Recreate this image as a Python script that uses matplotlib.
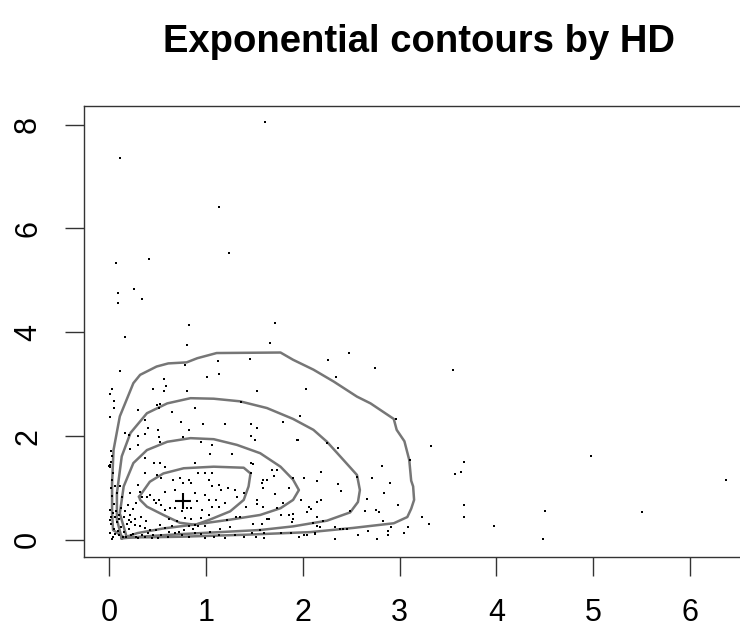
import matplotlib
matplotlib.use("Agg")
import matplotlib.pyplot as plt
import numpy as np

plt.rcParams["font.family"] = ["Liberation Sans", "DejaVu Sans"]

# sample points (x, y)
sparse_pts = [
    (1.61, 8.05), (0.11, 7.36), (1.13, 6.42), (1.24, 5.53), (0.41, 5.41), (0.07, 5.34),
    (0.26, 4.84), (0.09, 4.76), (0.34, 4.64), (0.09, 4.57), (0.82, 4.14), (1.71, 4.17),
    (0.16, 3.90), (0.80, 3.76), (1.66, 3.79), (2.48, 3.60), (2.26, 3.47), (2.75, 3.32),
    (1.12, 3.44), (1.45, 3.48), (0.78, 3.36), (0.11, 3.25), (1.13, 3.20), (1.01, 3.13),
    (0.57, 3.10), (2.34, 3.13), (3.55, 3.28), (3.32, 1.81), (3.11, 1.54), (3.67, 1.50),
    (3.57, 1.27), (3.63, 1.30), (4.98, 1.61), (6.37, 1.15), (3.67, 0.68), (3.67, 0.45),
    (3.23, 0.45), (3.30, 0.30), (3.09, 0.25), (3.05, 0.14), (4.50, 0.56), (5.50, 0.53),
    (3.98, 0.26), (4.48, 0.02), (2.77, 0.02), (2.33, 0.02), (2.82, 1.43), (2.90, 1.10),
    (2.84, 0.91), (2.98, 0.68), (2.36, 1.77), (2.25, 1.87), (1.95, 1.92), (1.51, 1.92),
    (2.03, 2.90), (1.97, 2.39), (2.96, 2.32), (1.80, 2.27), (1.53, 2.86), (1.53, 2.15),
]

upper_pts = [
    (0.03, 2.91), (0.01, 2.81), (0.45, 2.90), (0.59, 2.97), (0.57, 2.86), (0.80, 2.86),
    (0.05, 2.67), (0.05, 2.55), (0.49, 2.60), (0.53, 2.62), (0.51, 2.54), (0.30, 2.50),
    (0.89, 2.54), (0.65, 2.47), (1.36, 2.65), (0.01, 2.36), (0.37, 2.31), (0.74, 2.27),
    (0.97, 2.23), (1.20, 2.23), (1.47, 2.24), (0.40, 2.16), (0.50, 2.12), (0.82, 2.11),
    (0.16, 2.06), (0.76, 1.99), (0.20, 2.02), (0.30, 2.00), (0.37, 2.04), (0.51, 1.99),
    (1.47, 2.00), (0.02, 1.72), (0.03, 1.61), (0.22, 1.75), (0.30, 1.83), (0.53, 1.88),
    (0.95, 1.88), (1.06, 1.83), (1.04, 1.66), (1.27, 1.66), (0.37, 1.57), (0.46, 1.48),
    (0.53, 1.49), (0.58, 1.41), (0.89, 1.48), (1.47, 1.49), (0.01, 1.41), (0.02, 1.51),
    (1.80, 2.28), (1.94, 1.93), (1.49, 1.46),
]

core_pts = [
    (0.92, 1.28), (0.99, 1.28), (1.06, 1.28), (0.04, 1.28), (0.03, 1.16), (0.06, 1.03),
    (0.08, 0.90), (0.11, 1.03), (0.13, 0.83), (0.37, 1.28), (0.49, 1.25), (0.54, 1.19),
    (0.58, 0.93), (0.66, 1.16), (0.68, 0.96), (0.73, 1.19), (0.76, 1.09), (0.82, 1.16),
    (0.85, 1.09), (0.89, 0.90), (0.91, 0.74), (0.99, 0.87), (1.03, 1.16), (1.06, 1.03),
    (1.13, 1.06), (1.16, 0.96), (1.23, 1.00), (1.30, 0.96), (1.32, 0.83), (1.03, 0.77),
    (1.10, 0.77), (1.06, 0.64), (1.13, 0.63), (1.20, 0.71), (0.30, 1.06), (0.32, 0.93),
    (0.34, 0.83), (0.39, 0.83), (0.42, 0.87), (0.46, 0.77), (0.48, 0.71), (0.51, 0.77),
    (0.54, 0.67), (0.58, 0.58), (0.63, 0.61), (0.68, 0.61), (0.75, 0.55), (0.80, 0.61),
    (0.85, 0.61), (0.96, 0.57), (1.03, 0.48), (1.47, 1.28), (1.63, 1.16), (1.58, 1.10),
    (1.39, 0.90), (1.53, 0.77), (1.53, 0.69), (1.41, 0.63), (1.31, 0.45), (1.35, 0.45),
    (1.22, 0.39), (1.49, 0.31),
]

right_pts = [
    (1.59, 1.16), (1.68, 1.34), (1.73, 1.34), (1.70, 1.23), (1.59, 1.00), (1.71, 0.89),
    (1.59, 0.64), (1.73, 0.61), (1.80, 0.71), (1.86, 1.00), (1.90, 1.19), (2.01, 1.19),
    (2.15, 1.14), (2.19, 1.30), (1.98, 0.76), (2.06, 0.64), (2.08, 0.60), (2.15, 0.73),
    (2.19, 0.76), (2.36, 1.07), (2.40, 0.95), (2.04, 0.53), (2.15, 0.45), (2.21, 0.37),
    (2.11, 0.32), (1.78, 0.48), (1.86, 0.48), (1.90, 0.49), (1.90, 0.41), (1.89, 0.34),
    (1.63, 0.40), (1.65, 0.40), (2.56, 1.22), (2.49, 0.55), (2.64, 0.55), (2.66, 0.79),
    (2.72, 1.19), (2.76, 0.57), (2.79, 0.53), (2.83, 0.37), (2.91, 0.24), (2.88, 0.17),
    (2.88, 0.10), (2.33, 0.24), (2.38, 0.21), (2.42, 0.21), (2.46, 0.21), (2.18, 0.24),
    (2.15, 0.27), (2.57, 0.10), (2.67, 0.18), (1.96, 0.06), (2.01, 0.10), (2.04, 0.10),
    (2.13, 0.11), (2.13, 0.14), (1.88, 0.14), (1.77, 0.13), (1.60, 0.03), (1.60, 0.13),
    (1.56, 0.19), (1.58, 0.31),
]

corner_pts = [
    (0.01, 0.58), (0.04, 0.51), (0.06, 0.45), (0.10, 0.48), (0.15, 0.45), (0.20, 0.39),
    (0.23, 0.35), (0.27, 0.29), (0.32, 0.26), (0.37, 0.22), (0.42, 0.19), (0.48, 0.19),
    (0.53, 0.29), (0.58, 0.22), (0.65, 0.26), (0.72, 0.16), (0.77, 0.19), (0.82, 0.26),
    (0.89, 0.29), (0.92, 0.26), (0.99, 0.26), (1.04, 0.16), (0.01, 0.13), (0.04, 0.06),
    (0.10, 0.10), (0.17, 0.06), (0.23, 0.10), (0.30, 0.03), (0.37, 0.06), (0.44, 0.03),
    (0.54, 0.10), (0.61, 0.06), (0.68, 0.13), (0.75, 0.10), (0.82, 0.06), (0.89, 0.13),
    (0.99, 0.03), (1.13, 0.10), (1.20, 0.03), (1.30, 0.10), (1.39, 0.06), (0.02, 0.30),
    (0.05, 0.20), (0.08, 0.35), (0.12, 0.25), (0.15, 0.15), (0.18, 0.30), (0.03, 0.02),
    (0.06, 0.12), (0.10, 0.40), (0.14, 0.05), (0.20, 0.20), (0.25, 0.12), (0.28, 0.05),
    (0.02, 0.45), (0.07, 0.55), (0.12, 0.62), (0.05, 0.70), (0.16, 0.55), (0.22, 0.48),
    (0.09, 0.18), (0.34, 0.10), (0.40, 0.14), (0.45, 0.09), (0.50, 0.04), (0.01, 0.38),
    (0.03, 0.85), (0.02, 1.00), (0.00, 1.42), (0.01, 1.45), (0.19, 0.68), (0.25, 0.60),
    (0.28, 0.72), (0.22, 0.90), (0.27, 0.40), (0.33, 0.45), (0.38, 0.36), (0.62, 0.40),
    (0.70, 0.36), (0.78, 0.42), (0.85, 0.40), (0.95, 0.42), (1.15, 0.20), (1.25, 0.24),
    (0.62, 0.15), (0.87, 0.20), (0.95, 0.12), (1.08, 0.05), (1.48, 0.14), (1.52, 0.05),
]

# depth contours
contour_1 = [
    (0.31, 0.83), (0.42, 1.12), (0.56, 1.28), (0.77, 1.38), (1.08, 1.41), (1.39, 1.39),
    (1.46, 1.28), (1.44, 1.03), (1.39, 0.77), (1.25, 0.55), (1.04, 0.39), (0.89, 0.29),
    (0.73, 0.33), (0.56, 0.48), (0.39, 0.64), (0.32, 0.77),
]
contour_2 = [
    (0.18, 0.06), (0.11, 0.51), (0.15, 1.03), (0.25, 1.48), (0.39, 1.73), (0.60, 1.89),
    (0.84, 1.96), (1.08, 1.94), (1.32, 1.83), (1.56, 1.67), (1.77, 1.41), (1.90, 1.16),
    (1.96, 0.96), (1.90, 0.77), (1.77, 0.61), (1.56, 0.48), (1.25, 0.39), (0.94, 0.31),
    (0.56, 0.22), (0.29, 0.13),
]
contour_3 = [
    (0.13, 0.03), (0.08, 0.39), (0.08, 0.90), (0.13, 1.61), (0.22, 2.06), (0.39, 2.44),
    (0.60, 2.63), (0.84, 2.73), (1.08, 2.72), (1.35, 2.67), (1.63, 2.54), (1.90, 2.33),
    (2.11, 2.12), (2.25, 1.89), (2.42, 1.54), (2.56, 1.25), (2.59, 0.96), (2.57, 0.73),
    (2.49, 0.53), (2.25, 0.37), (1.90, 0.26), (1.56, 0.19), (1.25, 0.16), (0.73, 0.11),
    (0.39, 0.07),
]
contour_4 = [
    (0.15, 0.05), (0.04, 0.19), (0.03, 0.51), (0.03, 1.09), (0.045, 1.73), (0.11, 2.38),
    (0.18, 2.70), (0.25, 3.02), (0.32, 3.18), (0.49, 3.34), (0.61, 3.40), (0.80, 3.42),
    (0.91, 3.50), (1.11, 3.60), (1.77, 3.61), (1.90, 3.47), (2.11, 3.28), (2.32, 3.05),
    (2.56, 2.76), (2.70, 2.63), (2.94, 2.33), (2.97, 2.12), (3.05, 1.90), (3.10, 1.54),
    (3.12, 1.14), (3.14, 1.03), (3.15, 0.77), (3.12, 0.60), (3.08, 0.44), (2.94, 0.32),
    (2.52, 0.23), (2.08, 0.15), (1.42, 0.10), (0.73, 0.06), (0.39, 0.05),
]
center = (0.76, 0.75)

x_ticks = [0, 1, 2, 3, 4, 5, 6]
y_ticks = [0, 2, 4, 6, 8]

fig = plt.figure(figsize=(7.4, 6.32), dpi=100)
ax = fig.add_axes([84 / 740, 75 / 632, 666 / 740, 451 / 632])

for c in (contour_1, contour_2, contour_3, contour_4):
    cx, cy = zip(*(c + c[:1]))
    ax.plot(cx, cy, color="#767676", lw=1.8, solid_joinstyle="round")

pts = sparse_pts + upper_pts + core_pts + right_pts + corner_pts
px, py = zip(*pts)
ax.plot(px, py, "s", color="black", ms=1.7, mew=0, ls="none")
ax.plot([center[0]], [center[1]], "+", color="black", ms=12, mew=1.5)

ax.set_xlim(-0.26, 6.62)
ax.set_ylim(-0.33, 8.36)
ax.set_xticks(x_ticks)
ax.set_yticks(y_ticks)
ax.set_yticklabels([str(v) for v in y_ticks], rotation=90, va="center")
ax.tick_params(length=13.5, width=1, pad=16, labelsize=22, color="#333333")
for s in ax.spines.values():
    s.set_linewidth(1)
    s.set_color("#333333")

fig.text(419 / 740, 1 - 42 / 632, "Exponential contours by HD", ha="center",
         va="center", fontsize=27.5, fontweight="bold")

fig.savefig("out.png", dpi=100)
